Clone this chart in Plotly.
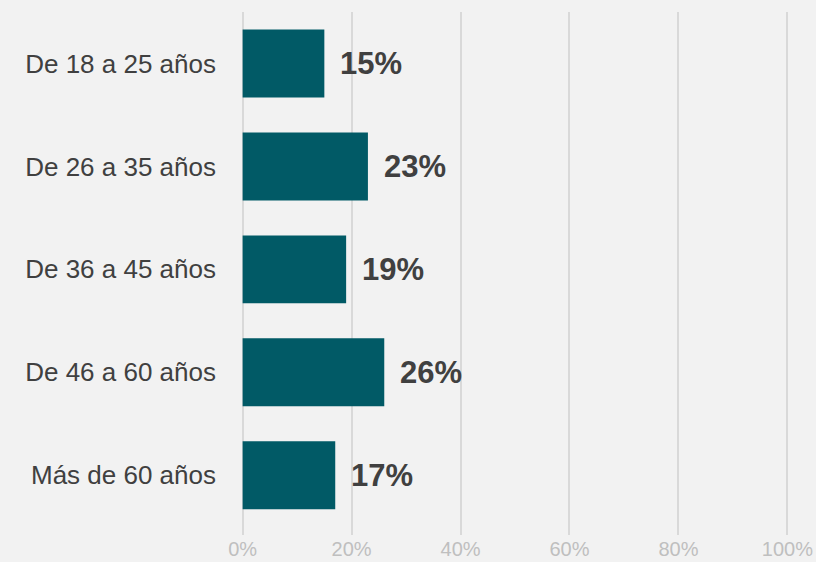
import plotly.graph_objects as go

# Data
categories = ["De 18 a 25 años", "De 26 a 35 años", "De 36 a 45 años",
              "De 46 a 60 años", "Más de 60 años"]
values = [15, 23, 19, 26, 17]
tick_vals = [0, 20, 40, 60, 80, 100]
tick_text = ["0%", "20%", "40%", "60%", "80%", "100%"]

bar_color = "#015A66"
label_color = "#404040"
font_family = "Liberation Sans, Arial, sans-serif"

fig = go.Figure()

fig.add_trace(go.Bar(
    x=values,
    y=categories,
    orientation="h",
    marker=dict(color=bar_color, line=dict(width=0)),
    width=0.66,
    hoverinfo="skip",
))

# Value labels to the right of each bar
for cat, val in zip(categories, values):
    fig.add_annotation(
        x=val, y=cat,
        text=f"<b>{val}%</b>",
        showarrow=False,
        xanchor="left",
        xshift=14,
        font=dict(family=font_family, size=31, color=label_color),
    )

fig.update_layout(
    width=816,
    height=562,
    paper_bgcolor="#F2F2F2",
    plot_bgcolor="#F2F2F2",
    margin=dict(l=241, r=27, t=12, b=27),
    showlegend=False,
    font=dict(family=font_family),
)

# range slightly padded so the 0% and 100% gridlines are still drawn
fig.update_xaxes(
    range=[-0.3, 100.3],
    tickvals=tick_vals,
    ticktext=tick_text,
    tickfont=dict(size=20, color="#BFBFBF"),
    ticklabelstandoff=0,
    showgrid=True,
    gridcolor="#D9D9D9",
    gridwidth=1.5,
    zeroline=False,
    showline=False,
    automargin=False,
    fixedrange=True,
)

fig.update_yaxes(
    categoryorder="array",
    categoryarray=categories,
    range=[4.58, -0.5],
    tickfont=dict(size=26, color=label_color),
    ticklabelstandoff=24,
    showgrid=False,
    zeroline=False,
    showline=False,
    automargin=False,
    fixedrange=True,
)

# remove the default page margin so the figure sits flush in the window
fig.write_html(
    "out.html",
    config={"displayModeBar": False},
    post_script="document.body.style.margin='0';document.body.style.background='#F2F2F2';",
)
